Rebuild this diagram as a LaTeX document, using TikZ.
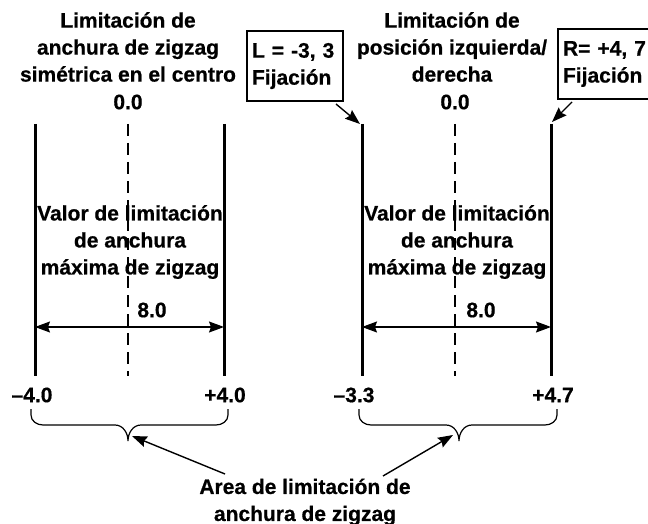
\documentclass[tikz,border=0pt]{standalone}
\usepackage{fontspec}
\setmainfont{Liberation Sans}[BoldFeatures={FakeBold=0.6}]
\usetikzlibrary{arrows.meta}
\tikzset{
  lbl/.style = {font=\bfseries\fontsize{21}{27}\selectfont, align=center, inner sep=0pt},
  limit/.style = {line width=3pt},
  axis/.style = {line width=1.2pt, dash pattern=on 12pt off 7pt},
  pointer/.style = {line width=1.4pt, -{Stealth[length=15pt,width=11pt,inset=2pt]}},
  span/.style = {line width=1.4pt, {Stealth[length=15pt,width=11pt,inset=2pt]}-{Stealth[length=15pt,width=11pt,inset=2pt]}},
  fixbox/.style = {lbl, draw, line width=2pt, minimum width=96pt, minimum height=70pt,
                   text width=86pt, align=left},
  brace/.style = {line width=1.2pt}
}

\begin{document}
\begin{tikzpicture}[x=1pt, y=-1pt]
  \clip (0,0) rectangle (648,524);
  % centre-symmetric limit
  \node[lbl] (titleL) at (128,47) {Limitación de\\anchura de zigzag\\simétrica en el centro};
  \node[lbl] (zeroL) at (128,102) {0.0};
  \coordinate (aT) at (35,124);  \coordinate (aB) at (35,376);
  \coordinate (cT) at (128,124); \coordinate (cB) at (128,376);
  \coordinate (bT) at (224,124); \coordinate (bB) at (224,376);
  \draw[limit] (aT) -- (aB);
  \draw[limit] (bT) -- (bB);
  \draw[axis] (cT) -- (cB);
  \node[lbl] (valorL) at (130,242) {Valor de limitación\\de anchura\\máxima de zigzag};
  \node[lbl] (widthL) at (152,310) {8.0};
  \draw[span] (35,327) coordinate (sa) -- (224,327) coordinate (sb);
  \node[lbl] (minL) at (32,395) {–4.0};
  \node[lbl] (maxL) at (225,395) {+4.0};
  \draw[brace] (31,409) -- (31,415) to[out=-90,in=180] (43,425) -- (115,425)
    to[out=0,in=90] (128,441) coordinate (tipL) to[out=90,in=180] (141,425)
    -- (216,425) to[out=0,in=-90] (228,415) -- (228,409);

  % left/right position limit
  \node[lbl] (titleR) at (452,47) {Limitación de\\posición izquierda/\\derecha};
  \node[lbl] (zeroR) at (455,102) {0.0};
  \node[fixbox] (boxL) at (295,66) {L = -3, 3\\Fijación};
  \node[fixbox] (boxR) at (606,64) {R= +4, 7\\Fijación};
  \coordinate (dT) at (362,124); \coordinate (dB) at (362,376);
  \coordinate (eT) at (455,124); \coordinate (eB) at (455,376);
  \coordinate (fT) at (551,124); \coordinate (fB) at (551,376);
  \draw[limit] (dT) -- (dB);
  \draw[limit] (fT) -- (fB);
  \draw[axis] (eT) -- (eB);
  \draw[pointer] ([xshift=-8pt,yshift=-2pt]boxL.south east) -- ([xshift=-2pt]dT);
  \draw[pointer] ([xshift=15pt,yshift=-2pt]boxR.south west) -- ([xshift=1pt,yshift=2pt]fT);
  \node[lbl] (valorR) at (457,242) {Valor de limitación\\de anchura\\máxima de zigzag};
  \node[lbl] (widthR) at (481,310) {8.0};
  \draw[span] (362,327) coordinate (sd) -- (551,327) coordinate (sf);
  \node[lbl] (minR) at (354,395) {–3.3};
  \node[lbl] (maxR) at (553,395) {+4.7};
  \draw[brace] (359,409) -- (359,415) to[out=-90,in=180] (371,425) -- (446,425)
    to[out=0,in=90] (459,441) coordinate (tipR) to[out=90,in=180] (472,425)
    -- (545,425) to[out=0,in=-90] (557,415) -- (557,409);

  % common area
  \node[lbl] (area) at (305,502) {Area de limitación de\\anchura de zigzag};
  \coordinate (areaL) at (225,474);
  \coordinate (areaR) at (383,476);
  \draw[pointer] (areaL) -- ([xshift=4pt,yshift=5pt]tipL);
  \draw[pointer] (areaR) -- ([xshift=-6pt,yshift=6pt]tipR);
\end{tikzpicture}
\end{document}
